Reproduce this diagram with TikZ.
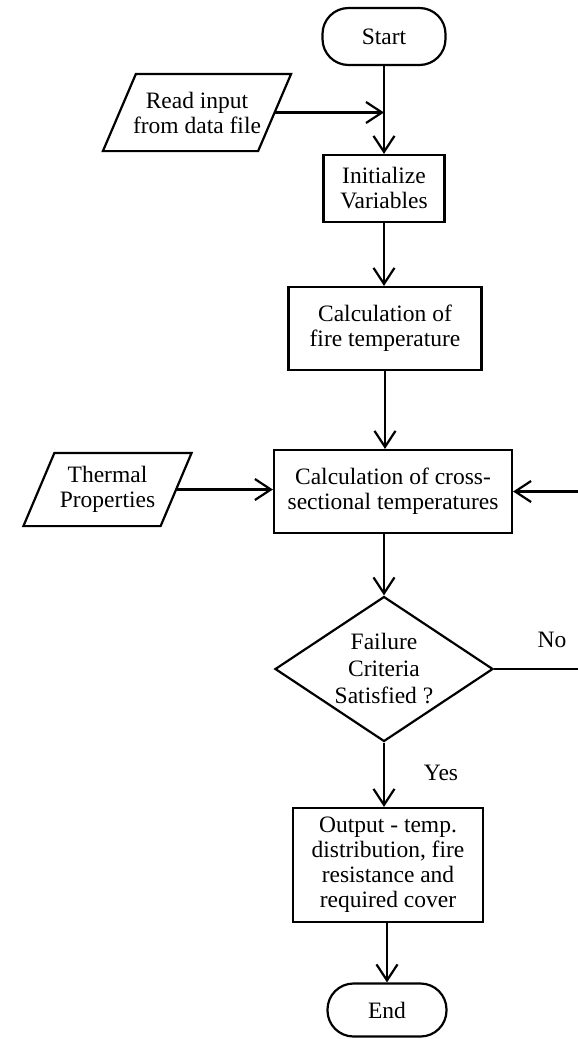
\documentclass[tikz,border=0pt]{standalone}
\usepackage{fontspec}
\setmainfont{Liberation Serif}
\usetikzlibrary{positioning, shapes.geometric, arrows.meta, calc}

\begin{document}
\begin{tikzpicture}[x=1pt, y=-1pt, line width=2.2pt,
  every node/.style={font=\fontsize{23.5}{25}\selectfont, align=center, inner sep=0pt},
  procbox/.style={draw, rectangle},
  termbox/.style={draw, rectangle, rounded corners=26pt},
  iobox/.style={rectangle},
  decbox/.style={draw, diamond, aspect=1.5, font=\fontsize{23.5}{27}\selectfont},
  flow/.style={-{Straight Barb[length=16pt,width=21pt]}}]
\useasboundingbox (0,0) rectangle (578,1039);
\node [termbox, minimum width=123pt, minimum height=57pt] (start) at (384,36.5) {Start};
\node [iobox, minimum width=153pt, minimum height=75pt] (readin) at (197,112.5) {Read input\\ from data file};
\node [procbox, minimum width=121pt, minimum height=67pt] (init) at (384,188.5) {Initialize\\ Variables};
\node [procbox, minimum width=193pt, minimum height=83pt] (fire) at (385,328.5) {Calculation of\\ fire temperature};
\node [iobox, minimum width=135pt, minimum height=71pt] (thermal) at (107.5,489.5) {Thermal\\ Properties};
\node [procbox, minimum width=238pt, minimum height=83pt] (cross) at (393,491.5) {Calculation of cross-\\ sectional temperatures};
\node [decbox, minimum width=218pt, minimum height=145pt] (check) at (384,669) {Failure\\ Criteria\\ Satisfied ?};
\node [procbox, minimum width=190pt, minimum height=114pt] (output) at (388,865) {Output - temp.\\ distribution, fire\\ resistance and\\ required cover};
\node [termbox, minimum width=119pt, minimum height=53pt] (stop) at (387,1010) {End};
\node (no) at (552,640) {No};
\node (yes) at (441,773) {Yes};
\coordinate (merge) at (start.south |- readin.east);
\coordinate (back) at (592,600);
\draw ($(readin.south west)+(-16.5,0)$) -- ($(readin.north west)+(16.5,0)$) -- ($(readin.north east)+(16.5,0)$) -- ($(readin.south east)+(-16.5,0)$) -- cycle;
\draw ($(thermal.south west)+(-15.5,0)$) -- ($(thermal.north west)+(15.5,0)$) -- ($(thermal.north east)+(15.5,0)$) -- ($(thermal.south east)+(-15.5,0)$) -- cycle;
\draw [flow] (start.south) -- (init.north);
\draw [flow] (readin.east) -- (merge);
\draw [flow] (init.south) -- (init.south |- fire.north);
\draw [flow] (fire.south) -- (fire.south |- cross.north);
\draw [flow] (thermal.east) -- (thermal.east -| cross.west);
\draw [flow] (check.north |- cross.south) -- (check.north);
\draw [flow] (check.south) -- (check.south |- output.north);
\draw [flow] (stop.north |- output.south) -- (stop.north);
\draw [flow] (check.east) -- (check.east -| back) |- (cross.east);
\end{tikzpicture}
\end{document}
